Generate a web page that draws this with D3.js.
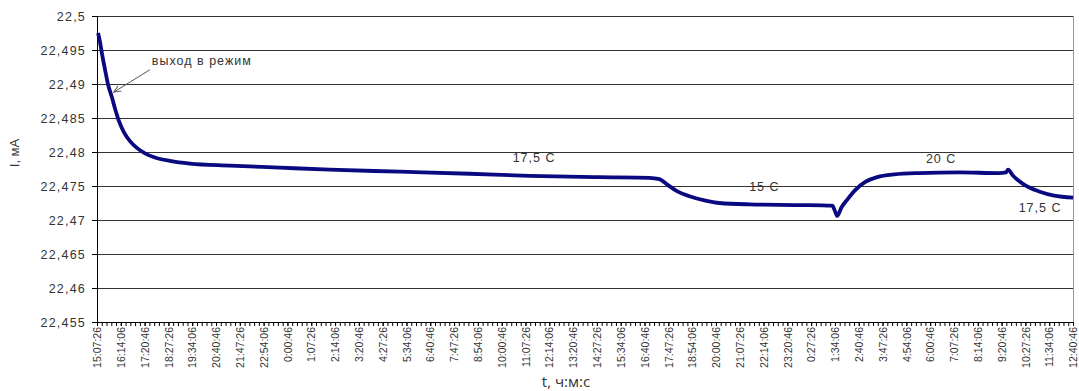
<!DOCTYPE html>
<html><head><meta charset="utf-8">
<script src="https://cdn.jsdelivr.net/npm/d3@7"></script>
<style>
html,body{margin:0;padding:0;background:#fff;}
svg{display:block;font-family:"Liberation Sans",Arial,sans-serif;}
</style></head>
<body>
<svg id="chart" width="1079" height="391"></svg>
<script>
// elapsed time (hours from start 15:07:26) and current I, mA
const timeHours = [0.05,0.14,0.23,0.37,0.51,0.70,0.84,1.03,1.26,1.54,1.86,2.24,2.70,3.40,4.34,6.20,8.53,10.86,14.13,17.39,20.19,23.45,25.79,26.25,26.62,27.09,27.65,28.35,29.05,30.45,32.78,34.32,34.46,34.55,34.74,35.02,35.39,35.86,36.42,37.21,38.37,40.24,42.10,42.43,42.52,42.76,43.27,43.97,44.67,45.56];
const currentMA = [22.4975,22.4962,22.4945,22.4922,22.4900,22.4880,22.4864,22.4845,22.4829,22.4816,22.4806,22.4798,22.4792,22.4787,22.4783,22.4780,22.4777,22.4774,22.4771,22.4768,22.4765,22.4763,22.4762,22.4760,22.4752,22.4742,22.4735,22.4729,22.4725,22.4723,22.4722,22.4721,22.4712,22.4706,22.4718,22.4730,22.4744,22.4756,22.4763,22.4767,22.4769,22.4770,22.4769,22.4770,22.4774,22.4765,22.4752,22.4742,22.4736,22.4733];
const xTickLabels = ["15:07:26","16:14:06","17:20:46","18:27:26","19:34:06","20:40:46","21:47:26","22:54:06","0:00:46","1:07:26","2:14:06","3:20:46","4:27:26","5:34:06","6:40:46","7:47:26","8:54:06","10:00:46","11:07:26","12:14:06","13:20:46","14:27:26","15:34:06","16:40:46","17:47:26","18:54:06","20:00:46","21:07:26","22:14:06","23:20:46","0:27:26","1:34:06","2:40:46","3:47:26","4:54:06","6:00:46","7:07:26","8:14:06","9:20:46","10:27:26","11:34:06","12:40:46"];
const yTicks = [22.455,22.46,22.465,22.47,22.475,22.48,22.485,22.49,22.495,22.5];
const labelStepHours = 4000/3600;
const annotations = [
  {text:"17,5 C", t:20.4, v:22.4785},
  {text:"15 C", t:31.15, v:22.4743},
  {text:"20 C", t:39.4, v:22.4784},
  {text:"17,5 C", t:44.02, v:22.4712}
];

const svg = d3.select("#chart");
const L=97, R=1073, T=16, B=322;
const x = d3.scaleLinear().domain([0,(xTickLabels.length-1)*labelStepHours]).range([L,R]);
const y = d3.scaleLinear().domain([22.455,22.5]).range([B,T]);

// gridlines
svg.append("g").selectAll("line").data(yTicks.slice(1)).join("line")
  .attr("x1",L).attr("x2",R).attr("y1",d=>y(d)).attr("y2",d=>y(d))
  .attr("stroke","#333").attr("stroke-width",1).attr("shape-rendering","crispEdges");
// right border
svg.append("line").attr("x1",R).attr("x2",R).attr("y1",T).attr("y2",B)
  .attr("stroke","#999").attr("shape-rendering","crispEdges");

// y axis
const fmt = d => String(d).replace(".",",");
const yAxis = d3.axisLeft(y).tickValues(yTicks).tickFormat(fmt).tickSize(5).tickPadding(6);
const gy = svg.append("g").attr("transform",`translate(${L},0)`).call(yAxis);
gy.select(".domain").attr("stroke","#000");
gy.selectAll(".tick line").attr("stroke","#000");
gy.selectAll("text").attr("font-size","12.5px").attr("letter-spacing","1.2px").attr("fill","#333")
  .attr("font-family","Liberation Sans, Arial, sans-serif");

// x axis with minor ticks
const minor = d3.range(0,(xTickLabels.length-1)*5+1).map(i=>i*labelStepHours/5);
const xAxisMinor = d3.axisBottom(x).tickValues(minor).tickFormat("").tickSize(4);
const gxm = svg.append("g").attr("transform",`translate(0,${B})`).call(xAxisMinor);
gxm.select(".domain").attr("stroke","#000");
gxm.selectAll(".tick line").attr("stroke","#000");
const majors = xTickLabels.map((d,i)=>i*labelStepHours);
const xAxis = d3.axisBottom(x).tickValues(majors).tickFormat((d,i)=>xTickLabels[i]).tickSize(4).tickPadding(4);
const gx = svg.append("g").attr("transform",`translate(0,${B})`).call(xAxis);
gx.select(".domain").remove();
gx.selectAll(".tick line").attr("stroke","#000");
gx.selectAll("text")
  .attr("font-size","10.5px").attr("fill","#333")
  .attr("font-family","Liberation Sans, Arial, sans-serif")
  .attr("transform","rotate(-90)")
  .attr("text-anchor","end")
  .attr("dy","0.35em").attr("x",-5).attr("y",0);

// line
const data = timeHours.map((t,i)=>({t, v:currentMA[i]}));
svg.append("path").datum(data)
  .attr("fill","none").attr("stroke","#0a0a80").attr("stroke-width",3.8)
  .attr("stroke-linejoin","round")
  .attr("d", d3.line().curve(d3.curveMonotoneX).x(d=>x(d.t)).y(d=>y(d.v)));

// annotations
svg.append("g").selectAll("text").data(annotations).join("text")
  .attr("x",d=>x(d.t)).attr("y",d=>y(d.v)).attr("text-anchor","middle")
  .attr("font-size","12.5px").attr("letter-spacing","1px").attr("fill","#333").text(d=>d.text);

// arrow annotation
svg.append("defs").append("marker").attr("id","arr").attr("viewBox","0 0 10 10")
  .attr("refX",9).attr("refY",5).attr("markerWidth",8).attr("markerHeight",8).attr("orient","auto")
  .append("path").attr("d","M0,1 L9,5 L0,9").attr("fill","none").attr("stroke","#555").attr("stroke-width",1.2);
svg.append("line").attr("x1",x(2.47)).attr("y1",y(22.4921)).attr("x2",x(0.78)).attr("y2",y(22.4888))
  .attr("stroke","#555").attr("stroke-width",1).attr("marker-end","url(#arr)");
svg.append("text").attr("x",x(2.56)).attr("y",y(22.4928)).attr("font-size","12.5px").attr("letter-spacing","1px").attr("fill","#333")
  .text("выход в режим");

// axis titles
svg.append("text").attr("x",566).attr("y",387).attr("text-anchor","middle")
  .attr("font-size","15px").attr("fill","#333").attr("font-family","Open Sans, sans-serif").text("t, ч:м:с");
svg.append("text").attr("transform","translate(19,153) rotate(-90)").attr("text-anchor","middle")
  .attr("font-size","13px").attr("fill","#333").text("I, мА");
</script>
</body></html>
